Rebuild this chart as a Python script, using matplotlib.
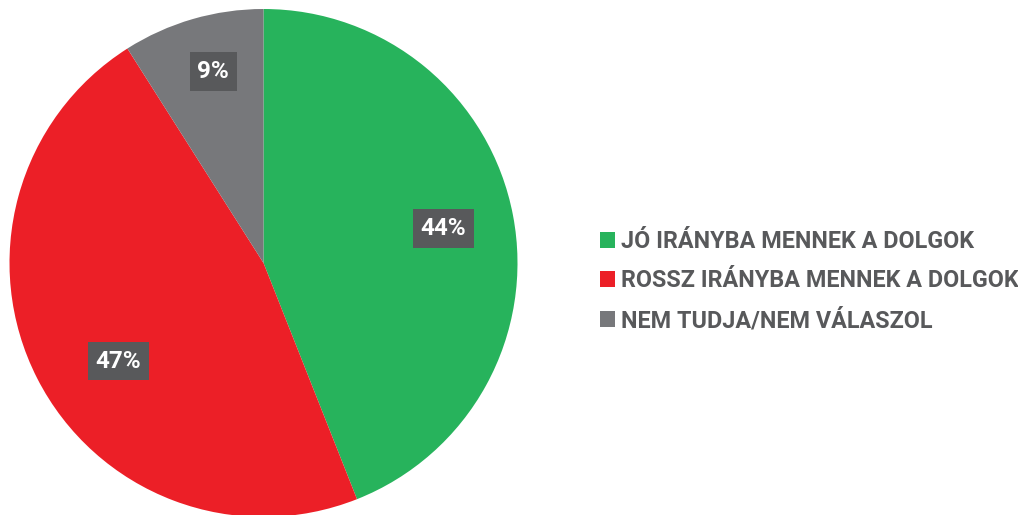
import matplotlib
matplotlib.use('Agg')
import numpy as np
import matplotlib.pyplot as plt
from matplotlib.patches import Patch

# adatok
categories = ['JÓ IRÁNYBA MENNEK A DOLGOK', 'ROSSZ IRÁNYBA MENNEK A DOLGOK', 'NEM TUDJA/NEM VÁLASZOL']
values = [44, 47, 9]
colors = ['#27b35c', '#ec1f27', '#77787b']

# címkék helye (sugár, szögeltolás fokban)
label_r = [0.72, 0.69, 0.78]
label_da = [0, 7, -1.5]

plt.rcParams['font.family'] = ['Roboto', 'DejaVu Sans']

fig = plt.figure(figsize=(10.18, 5.15), dpi=100)
W, H = 1018, 515
ax = fig.add_axes([9.5 / W, (H - 517) / H, 508 / W, 508 / H])

wedges, _ = ax.pie(values, colors=colors, startangle=90, counterclock=False,
                   radius=1, wedgeprops=dict(linewidth=0))

for w, v, r, da in zip(wedges, values, label_r, label_da):
    mid = np.radians((w.theta1 + w.theta2) / 2 + da)
    ax.text(r * np.cos(mid), r * np.sin(mid), '%d%%' % v, ha='center', va='center',
            color='white', fontsize=17.5, fontweight='bold',
            bbox=dict(boxstyle='square,pad=0.32', facecolor='#58595b', edgecolor='none'))

ax.set_xlim(-1, 1)
ax.set_ylim(-1, 1)
ax.set_aspect('equal')
ax.axis('off')

handles = [Patch(facecolor=c, edgecolor='none') for c in colors]
leg = fig.legend(handles, categories, loc='center left', bbox_to_anchor=(600 / W, (H - 281) / H),
                 frameon=False, handlelength=0.65, handleheight=0.65, handletextpad=0.25,
                 labelspacing=0.7, borderpad=0, borderaxespad=0,
                 prop=dict(family='Roboto', weight='bold', size=16.8))
for t in leg.get_texts():
    t.set_color('#58595b')

fig.savefig('out.png', dpi=100)
